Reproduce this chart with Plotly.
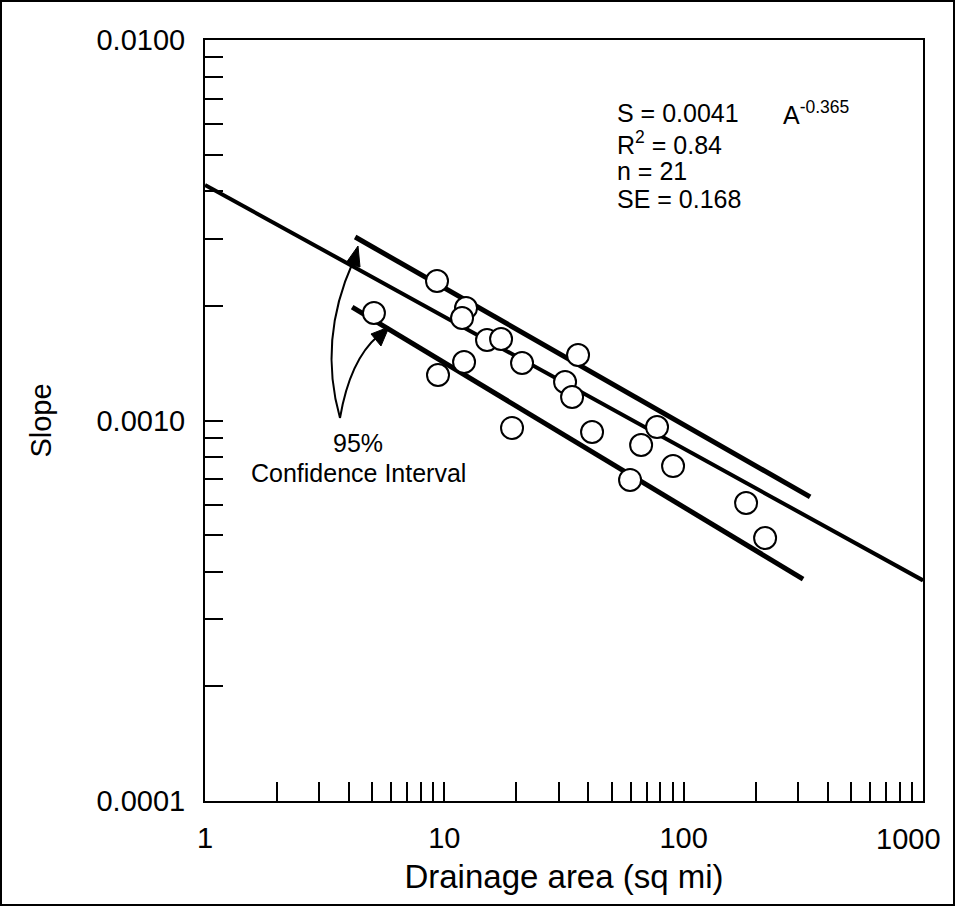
import plotly.graph_objects as go

# ---- data ----
area = [5.08, 9.32, 12.32, 11.86, 15.08, 17.26, 36.2, 12.09, 9.41, 21.12,
        31.95, 34.18, 41.42, 77.4, 66.4, 90.3, 59.7, 182.3, 218.9, 19.18]
slope = [0.001917, 0.002326, 0.001975, 0.001859, 0.001628, 0.001638, 0.001486,
         0.001425, 0.001317, 0.001416, 0.001262, 0.001153, 0.000933, 0.000961,
         0.000862, 0.000759, 0.000698, 0.000607, 0.000491, 0.000956]

fit_x = [1, 1000]
fit_y = [0.00416, 0.00038]
upper_x = [4.24, 337.6]
upper_y = [0.003035, 0.000630]
lower_x = [4.12, 315.5]
lower_y = [0.001987, 0.000383]

x_ticks = [1, 2, 3, 4, 5, 6, 7, 8, 9, 10, 20, 30, 40, 50, 60, 70, 80, 90,
           100, 200, 300, 400, 500, 600, 700, 800, 900, 1000]
x_labels = {1: "1", 10: "10", 100: "100"}
x_last_label = "1000"
y_ticks = [0.0001, 0.0002, 0.0003, 0.0004, 0.0005, 0.0006, 0.0007, 0.0008, 0.0009,
           0.001, 0.002, 0.003, 0.004, 0.005, 0.006, 0.007, 0.008, 0.009, 0.01]
y_labels = {0.0001: "0.0001", 0.001: "0.0010", 0.01: "0.0100"}

FONT = "Liberation Sans, Arial, sans-serif"
W, H = 956, 907
L, R, T, B = 205, 923, 40, 801


def px(x):
    return (x - L) / (R - L)


def py(y):
    return (B - y) / (B - T)


fig = go.Figure()
for xs, ys, w in [(fit_x, fit_y, 4), (upper_x, upper_y, 5), (lower_x, lower_y, 5)]:
    fig.add_trace(go.Scatter(x=xs, y=ys, mode="lines",
                             line=dict(color="black", width=w), showlegend=False,
                             hoverinfo="skip"))
fig.add_trace(go.Scatter(x=area, y=slope, mode="markers", showlegend=False,
                         marker=dict(size=22, color="white",
                                     line=dict(color="black", width=2))))

shapes = []
# outer border
shapes.append(dict(type="rect", xref="paper", yref="paper",
                   x0=px(1), x1=px(954), y0=py(905), y1=py(1),
                   line=dict(color="black", width=2)))


def path(points_px):
    s = "M {:.4f},{:.4f}".format(px(points_px[0][0]), py(points_px[0][1]))
    i = 1
    while i < len(points_px):
        (cx, cy), (ex, ey) = points_px[i], points_px[i + 1]
        s += " Q {:.4f},{:.4f} {:.4f},{:.4f}".format(px(cx), py(cy), px(ex), py(ey))
        i += 2
    return s


# curved arrow lines
shapes.append(dict(type="path", xref="paper", yref="paper",
                   path=path([(340, 418), (318, 340), (353, 262)]),
                   line=dict(color="black", width=2)))
shapes.append(dict(type="path", xref="paper", yref="paper",
                   path=path([(340, 418), (350, 360), (378, 336)]),
                   line=dict(color="black", width=2)))


def tri(pts):
    s = "M " + " L ".join("{:.4f},{:.4f}".format(px(a), py(b)) for a, b in pts) + " Z"
    return dict(type="path", xref="paper", yref="paper", path=s,
                fillcolor="black", line=dict(color="black", width=1))


shapes.append(tri([(358, 246), (346, 263), (360, 267)]))
shapes.append(tri([(389, 327), (371, 334), (381, 346)]))

TF = dict(family=FONT, size=25, color="black")


def note(x, y, text, anchor="left", font=TF):
    return dict(x=px(x), y=py(y), xref="paper", yref="paper", xanchor=anchor,
                yanchor="middle", text=text, showarrow=False, font=font)


annotations = [
    note(615, 113, "S = 0.0041"),
    note(781, 113, "A<sup>-0.365</sup>"),
    note(615, 143, "R<sup>2</sup> = 0.84"),
    note(615, 171, "n = 21"),
    note(615, 199, "SE = 0.168"),
    note(358, 443, "95%", "center"),
    note(358, 473, "Confidence Interval", "center"),
    # last x tick label, nudged inward as in the reference
    note(908, 839, x_last_label, "center", dict(family=FONT, size=29, color="black")),
]

fig.update_layout(
    width=W, height=H,
    margin=dict(l=L, r=W - R, t=T, b=H - B, autoexpand=False),
    paper_bgcolor="white", plot_bgcolor="white",
    font=dict(family=FONT, color="black"),
    shapes=shapes, annotations=annotations,
    xaxis=dict(type="log", range=[0, 3], showgrid=False, zeroline=False,
               automargin=False,
               tickvals=x_ticks, ticktext=[x_labels.get(v, "") for v in x_ticks],
               ticks="inside", ticklen=19, tickwidth=2, tickcolor="black",
               showline=True, linecolor="black", linewidth=2, mirror=True,
               tickfont=dict(size=29), ticklabelstandoff=10,
               title=dict(text="Drainage area (sq mi)", font=dict(size=33),
                          standoff=12)),
    yaxis=dict(type="log", range=[-4, -2], showgrid=False, zeroline=False,
               automargin=False,
               tickvals=y_ticks, ticktext=[y_labels.get(v, "") for v in y_ticks],
               ticks="inside", ticklen=18, tickwidth=2, tickcolor="black",
               showline=True, linecolor="black", linewidth=2, mirror=True,
               tickfont=dict(size=29), ticklabelstandoff=12,
               title=dict(text="Slope", font=dict(size=29), standoff=36)),
)

fig.write_html("out.html")
